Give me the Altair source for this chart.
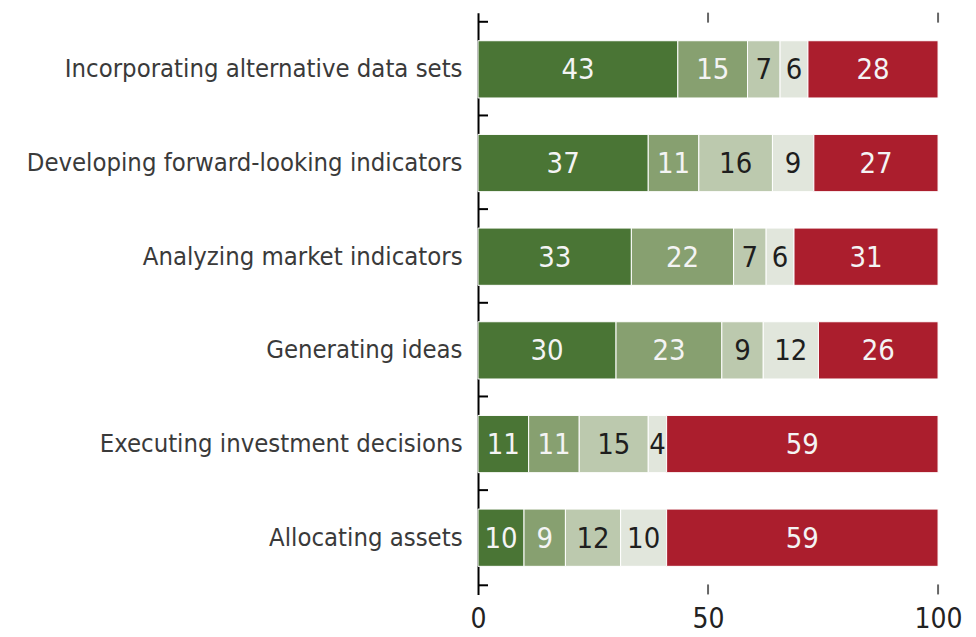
import altair as alt
import pandas as pd

categories = [
    "Incorporating alternative data sets",
    "Developing forward-looking indicators",
    "Analyzing market indicators",
    "Generating ideas",
    "Executing investment decisions",
    "Allocating assets",
]
series = ["Significant", "Moderate", "Minor", "Unsure", "None"]
s1 = [43, 37, 33, 30, 11, 10]
s2 = [15, 11, 22, 23, 11, 9]
s3 = [7, 16, 7, 9, 15, 12]
s4 = [6, 9, 6, 12, 4, 10]
s5 = [28, 27, 31, 26, 59, 59]
colors = ["#4a7535", "#87a070", "#bcc9ae", "#e1e6dc", "#ab1e2d"]
x_ticks = [0.5, 1.0]

rows = []
for si, (name, vals) in enumerate(zip(series, [s1, s2, s3, s4, s5])):
    for c, v in zip(categories, vals):
        rows.append({"cat": c, "series": name, "idx": si, "val": v})
df = pd.DataFrame(rows)
cat_df = pd.DataFrame({"cat": categories})
xt_df = pd.DataFrame({"xt": x_ticks})

FONT = "DejaVu Sans Condensed, sans-serif"

yscale = alt.Scale(domain=categories, paddingInner=0.389, paddingOuter=0.3)
xscale = alt.Scale(domain=[0, 1], nice=False, zero=True)

base = alt.Chart(df).transform_stack(
    stack="val", groupby=["cat"], as_=["x0", "x1"], offset="normalize",
    sort=[alt.SortField("idx", order="ascending")],
)

bars = base.mark_bar(stroke="white", strokeWidth=1).encode(
    y=alt.Y("cat:N", scale=yscale, sort=categories, title=None,
            axis=alt.Axis(domain=True, domainColor="black", domainWidth=2,
                          ticks=False, tickSize=0, labelPadding=16,
                          labelFont=FONT, labelFontSize=25.5, labelColor="#3a3a3a",
                          labelLimit=0, grid=False)),
    x=alt.X("x0:Q", scale=xscale, title=None,
            axis=alt.Axis(values=[0, 0.5, 1], labelExpr="round(datum.value*100)",
                          domain=False, ticks=False, tickSize=0, grid=False,
                          labelFlush=False, labelPadding=11, labelFont=FONT,
                          labelFontSize=28, labelColor="#222222")),
    x2="x1:Q",
    color=alt.Color("series:N", scale=alt.Scale(domain=series, range=colors), legend=None),
)

texts = base.transform_calculate(
    mid="(datum.x0 + datum.x1) / 2",
    tc="(datum.idx == 2 || datum.idx == 3) ? '#1e1e1e' : '#f4f4f4'",
).mark_text(font=FONT, fontSize=29, baseline="middle", align="center", dy=1).encode(
    y=alt.Y("cat:N", scale=yscale, sort=categories),
    x=alt.X("mid:Q", scale=xscale),
    text=alt.Text("val:Q"),
    color=alt.Color("tc:N", scale=None),
)

ytick_rules = alt.Chart(cat_df).mark_rule(color="black", strokeWidth=2, yOffset=-19).encode(
    y=alt.Y("cat:N", scale=yscale, sort=categories, bandPosition=0),
    x=alt.value(0), x2=alt.value(10),
)
ytick_last = alt.Chart(cat_df).transform_filter(
    alt.datum.cat == categories[-1]
).mark_rule(color="black", strokeWidth=2, yOffset=19).encode(
    y=alt.Y("cat:N", scale=yscale, sort=categories, bandPosition=1),
    x=alt.value(0), x2=alt.value(10),
)

xt_top = alt.Chart(xt_df).mark_rule(color="#666666", strokeWidth=2).encode(
    x=alt.X("xt:Q", scale=xscale), y=alt.value(0), y2=alt.value(10),
)
xt_bot = alt.Chart(xt_df).mark_rule(color="#666666", strokeWidth=2).encode(
    x=alt.X("xt:Q", scale=xscale), y=alt.value(573), y2=alt.value(583),
)

chart = alt.layer(bars, texts, ytick_rules, ytick_last, xt_top, xt_bot).properties(
    width=461, height=583,
    autosize=alt.AutoSizeParams(type="none"),
    padding={"left": 471, "top": 4, "right": 30, "bottom": 40},
    background="white",
).configure_view(strokeWidth=0)

chart.save("out.html", embed_options={"renderer": "svg", "actions": False})
